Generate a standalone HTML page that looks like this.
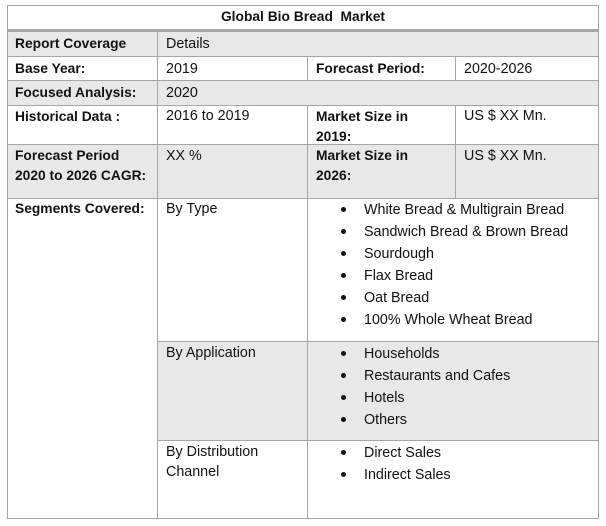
<!DOCTYPE html>
<html><head><meta charset="utf-8"><style>
body{margin:0;width:606px;height:526px;background:#fff;position:relative;font-family:"Liberation Sans",sans-serif;font-size:14.3px;color:#111;overflow:hidden}
.r{position:absolute;left:7px;width:591px;box-sizing:border-box}
.g{background:#e8e8e8}
.h{position:absolute;background:#a6a6a6;height:1px;left:7px;width:592px}
.v{position:absolute;background:#a6a6a6;width:1px}
.t{position:absolute;white-space:nowrap;line-height:20px;margin-top:2px}
b{font-weight:bold;font-size:13.8px}
.bl{position:absolute;width:5px;height:5px;border-radius:50%;background:#111}
</style></head><body>
<div class="r g" style="top:31px;height:25px"></div>
<div class="r g" style="top:81px;height:24px"></div>
<div class="r g" style="top:144px;height:54px"></div>
<div class="r g" style="top:341px;height:99px;left:158px;width:440px"></div>

<div class="h" style="top:5px"></div>
<div class="h" style="top:29px;height:3px"></div>
<div class="h" style="top:56px"></div>
<div class="h" style="top:80px"></div>
<div class="h" style="top:105px"></div>
<div class="h" style="top:144px"></div>
<div class="h" style="top:198px"></div>
<div class="h" style="top:341px;left:158px;width:441px"></div>
<div class="h" style="top:440px;left:158px;width:441px"></div>
<div class="h" style="top:518px"></div>
<div class="v" style="left:7px;top:5px;height:514px"></div>
<div class="v" style="left:598px;top:5px;height:514px"></div>
<div class="v" style="left:157px;top:31px;height:488px"></div>
<div class="v" style="left:307px;top:56px;height:25px"></div>
<div class="v" style="left:307px;top:105px;height:414px"></div>
<div class="v" style="left:455px;top:56px;height:25px"></div>
<div class="v" style="left:455px;top:105px;height:93px"></div>

<div class="t" style="left:0;width:606px;text-align:center;top:5px"><b>Global Bio Bread&nbsp; Market</b></div>
<div class="t" style="left:15px;top:32px"><b>Report Coverage</b></div>
<div class="t" style="left:166px;top:32px">Details</div>
<div class="t" style="left:15px;top:57px"><b>Base Year:</b></div>
<div class="t" style="left:166px;top:57px">2019</div>
<div class="t" style="left:316px;top:57px"><b>Forecast Period:</b></div>
<div class="t" style="left:464px;top:57px">2020-2026</div>
<div class="t" style="left:15px;top:81px"><b>Focused Analysis:</b></div>
<div class="t" style="left:166px;top:81px">2020</div>
<div class="t" style="left:15px;top:105px;line-height:19px"><b>Historical Data :</b></div>
<div class="t" style="left:166px;top:105px;line-height:19px">2016 to 2019</div>
<div class="t" style="left:316px;top:105px;line-height:19px"><b>Market Size in<br>2019:</b></div>
<div class="t" style="left:464px;top:105px;line-height:19px">US $ XX Mn.</div>
<div class="t" style="left:15px;top:144px"><b>Forecast Period<br>2020 to 2026 CAGR:</b></div>
<div class="t" style="left:166px;top:144px">XX %</div>
<div class="t" style="left:316px;top:144px"><b>Market Size in<br>2026:</b></div>
<div class="t" style="left:464px;top:144px">US $ XX Mn.</div>
<div class="t" style="left:15px;top:197px"><b>Segments Covered:</b></div>
<div class="t" style="left:166px;top:197px">By Type</div>
<div class="t" style="left:166px;top:341px">By Application</div>
<div class="t" style="left:166px;top:440px;line-height:20px">By Distribution<br>Channel</div>

<div class="t" style="left:364px;top:197px;line-height:22px">White Bread &amp; Multigrain Bread<br>Sandwich Bread &amp; Brown Bread<br>Sourdough<br>Flax Bread<br>Oat Bread<br>100% Whole Wheat Bread</div>
<div class="t" style="left:364px;top:341px;line-height:22px">Households<br>Restaurants and Cafes<br>Hotels<br>Others</div>
<div class="t" style="left:364px;top:440px;line-height:22px">Direct Sales<br>Indirect Sales</div>

<div class="bl" style="left:341px;top:207px"></div>
<div class="bl" style="left:341px;top:229px"></div>
<div class="bl" style="left:341px;top:251px"></div>
<div class="bl" style="left:341px;top:273px"></div>
<div class="bl" style="left:341px;top:295px"></div>
<div class="bl" style="left:341px;top:317px"></div>
<div class="bl" style="left:341px;top:351px"></div>
<div class="bl" style="left:341px;top:373px"></div>
<div class="bl" style="left:341px;top:395px"></div>
<div class="bl" style="left:341px;top:417px"></div>
<div class="bl" style="left:341px;top:450px"></div>
<div class="bl" style="left:341px;top:472px"></div>
</body></html>
